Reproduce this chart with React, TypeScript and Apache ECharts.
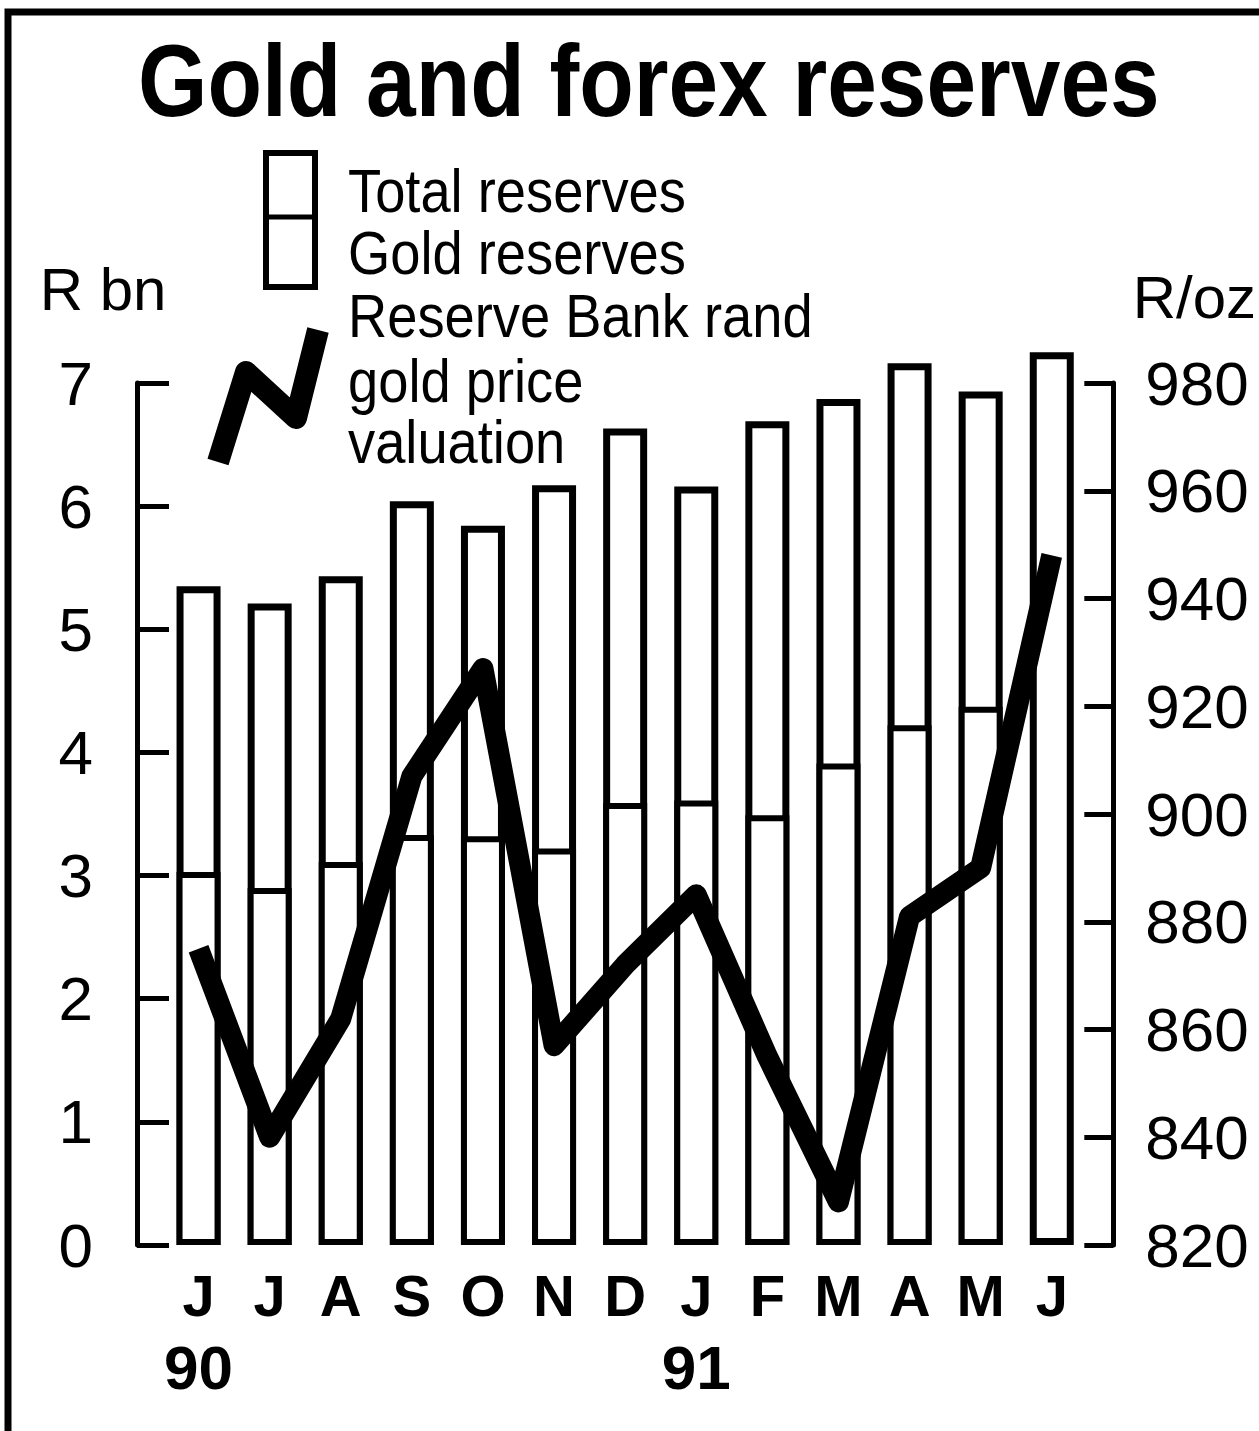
import React, { useEffect, useRef } from 'react';
import * as echarts from 'echarts';

const months = ['J', 'J', 'A', 'S', 'O', 'N', 'D', 'J', 'F', 'M', 'A', 'M', 'J'];
const yearLabels = ['90', '', '', '', '', '', '', '91', '', '', '', '', ''];
const totalReserves = [5.35, 5.21, 5.43, 6.04, 5.84, 6.17, 6.63, 6.16, 6.69, 6.87, 7.16, 6.93, 7.25];
const goldReserves = [3.03, 2.9, 3.11, 3.33, 3.32, 3.22, 3.59, 3.61, 3.49, 3.91, 4.22, 4.37, null];
const goldPrice = [875, 840, 862, 907, 927, 857, 872, 885, 855, 828, 881, 890, 948];
const leftMin = 0;
const leftMax = 7;
const leftStep = 1;
const rightMin = 820;
const rightMax = 980;
const rightStep = 20;
const titleText = 'Gold and forex reserves';
const legendLabels = ['Total reserves', 'Gold reserves', 'Reserve Bank rand', 'gold price', 'valuation'];

const FONT = "'Liberation Sans', Arial, Helvetica, sans-serif";

export default function App() {
  const ref = useRef<HTMLDivElement>(null);
  useEffect(() => {
    const chart = echarts.init(ref.current!, null, { renderer: 'svg' });
    const legendMid = [191, 253, 316, 381, 442];
    chart.setOption({
      animation: false,
      backgroundColor: '#fff',
      grid: { left: 163, right: 168, top: 383, bottom: 186 },
      xAxis: {
        type: 'category',
        data: months,
        axisLine: { show: false },
        axisTick: { show: false },
        axisLabel: {
          interval: 0,
          margin: 14,
          fontFamily: FONT,
          fontSize: 58,
          fontWeight: 'bold',
          color: '#000',
          lineHeight: 72,
          formatter: (v: string, i: number) => (yearLabels[i] ? `${v}\n{yr|${yearLabels[i]}}` : v),
          rich: {
            yr: { fontFamily: FONT, fontSize: 62, fontWeight: 'bold', lineHeight: 72, color: '#000' },
          },
        },
      },
      yAxis: [
        {
          type: 'value',
          position: 'left',
          offset: 26,
          min: leftMin,
          max: leftMax,
          interval: leftStep,
          name: 'R bn',
          nameLocation: 'end',
          nameGap: 64,
          nameTextStyle: { fontFamily: FONT, fontSize: 60, color: '#000', align: 'center', padding: [0, 68, 0, 0] },
          axisLine: { show: true, lineStyle: { color: '#000', width: 5 } },
          axisTick: { show: true, inside: true, length: 32, lineStyle: { color: '#000', width: 5 } },
          axisLabel: { margin: 44, fontFamily: FONT, fontSize: 62, color: '#000' },
          splitLine: { show: false },
        },
        {
          type: 'value',
          position: 'right',
          offset: 26,
          min: rightMin,
          max: rightMax,
          interval: rightStep,
          name: 'R/oz',
          nameLocation: 'end',
          nameGap: 56,
          nameTextStyle: { fontFamily: FONT, fontSize: 60, color: '#000', align: 'center', padding: [0, 0, 0, 162] },
          axisLine: { show: true, lineStyle: { color: '#000', width: 5 } },
          axisTick: { show: true, inside: true, length: 29, lineStyle: { color: '#000', width: 5 } },
          axisLabel: { margin: 32, fontFamily: FONT, fontSize: 62, color: '#000' },
          splitLine: { show: false },
        },
      ],
      series: [
        {
          type: 'bar',
          name: 'Total reserves',
          data: totalReserves,
          barWidth: 44,
          barGap: '-100%',
          clip: false,
          itemStyle: { color: '#fff', borderColor: '#000', borderWidth: 7 },
        },
        {
          type: 'bar',
          name: 'Gold reserves',
          data: goldReserves,
          barWidth: 44,
          barGap: '-100%',
          clip: false,
          itemStyle: { color: '#fff', borderColor: '#000', borderWidth: 6 },
        },
        {
          type: 'line',
          name: 'Reserve Bank rand gold price valuation',
          yAxisIndex: 1,
          data: goldPrice,
          symbol: 'none',
          z: 5,
          lineStyle: { color: '#000', width: 21, cap: 'butt', join: 'round' },
        },
      ],
      graphic: [
        {
          type: 'polyline',
          shape: { points: [[8, 1431], [8, 12], [1259, 12]] },
          style: { stroke: '#000', lineWidth: 7, fill: 'none' },
        },
        {
          type: 'text',
          x: 138,
          y: 80,
          scaleX: 0.875,
          style: {
            text: titleText,
            x: 0,
            y: 0,
            fontFamily: FONT,
            fontSize: 102,
            fontWeight: 'bold',
            fill: '#000',
            align: 'left',
            verticalAlign: 'middle',
          },
        },
        {
          type: 'rect',
          shape: { x: 266, y: 153, width: 49, height: 134 },
          style: { fill: '#fff', stroke: '#000', lineWidth: 6 },
        },
        {
          type: 'line',
          shape: { x1: 266, y1: 217, x2: 315, y2: 217 },
          style: { stroke: '#000', lineWidth: 5 },
        },
        {
          type: 'polyline',
          shape: { points: [[218, 462], [246, 372], [296, 418], [318, 330]] },
          style: { stroke: '#000', lineWidth: 22, lineJoin: 'round', lineCap: 'butt', fill: 'none' },
        },
        ...legendLabels.map((t, i) => ({
          type: 'text',
          x: 348,
          y: legendMid[i],
          scaleX: 0.89,
          style: {
            text: t,
            x: 0,
            y: 0,
            fontFamily: FONT,
            fontSize: 61,
            fill: '#000',
            align: 'left',
            verticalAlign: 'middle',
          },
        })),
      ],
    });
    return () => chart.dispose();
  }, []);
  return (
    <div
      ref={ref}
      style={{ position: 'fixed', left: 0, top: 0, width: 1259, height: 1431, background: '#fff' }}
    />
  );
}
